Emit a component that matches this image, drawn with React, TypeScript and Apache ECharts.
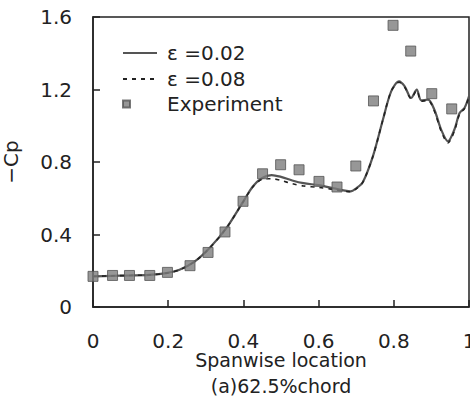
import React, { useEffect, useRef } from "react";
import * as echarts from "echarts";

const xTicks = [0, 0.2, 0.4, 0.6, 0.8, 1];
const yTicks = [0, 0.4, 0.8, 1.2, 1.6];

const eps002X = [0, 0.05, 0.1, 0.15, 0.195, 0.23, 0.27, 0.31, 0.355, 0.4, 0.425, 0.45, 0.475, 0.5, 0.53, 0.56, 0.6, 0.64, 0.67, 0.685, 0.7, 0.718, 0.745, 0.771, 0.793, 0.814, 0.829, 0.846, 0.861, 0.873, 0.891, 0.908, 0.926, 0.944, 0.961, 0.975, 0.988, 1.0];
const eps002Y = [0.169, 0.172, 0.174, 0.177, 0.187, 0.205, 0.25, 0.325, 0.436, 0.583, 0.665, 0.712, 0.728, 0.718, 0.698, 0.683, 0.672, 0.655, 0.642, 0.638, 0.655, 0.69, 0.835, 1.033, 1.19, 1.245, 1.217, 1.153, 1.199, 1.14, 1.144, 1.088, 0.978, 0.914, 0.978, 1.07, 1.098, 1.162];
const eps008Y = [0.169, 0.172, 0.174, 0.177, 0.187, 0.205, 0.25, 0.325, 0.436, 0.583, 0.662, 0.705, 0.708, 0.698, 0.68, 0.668, 0.66, 0.648, 0.638, 0.636, 0.652, 0.69, 0.835, 1.033, 1.19, 1.24, 1.212, 1.15, 1.195, 1.135, 1.14, 1.08, 0.97, 0.905, 0.97, 1.065, 1.095, 1.16];

const expX = [0, 0.052, 0.097, 0.151, 0.198, 0.258, 0.306, 0.351, 0.399, 0.451, 0.499, 0.548, 0.601, 0.649, 0.699, 0.746, 0.798, 0.845, 0.901, 0.954];
const expY = [0.169, 0.174, 0.174, 0.174, 0.191, 0.228, 0.301, 0.414, 0.583, 0.735, 0.785, 0.757, 0.693, 0.662, 0.778, 1.137, 1.554, 1.412, 1.177, 1.093];

const fmt = (v: number) => String(Math.round(v * 10) / 10);

export default function App() {
  const ref = useRef<HTMLDivElement>(null);
  useEffect(() => {
    if (!ref.current) return;
    const chart = echarts.init(ref.current, null, { renderer: "svg" });
    const font = "DejaVu Sans, Liberation Sans, sans-serif";
    chart.setOption({
      animation: false,
      backgroundColor: "#fff",
      textStyle: { fontFamily: font },
      grid: {
        left: 93,
        top: 17,
        right: 1,
        bottom: 92,
        show: true,
        borderColor: "#222",
        borderWidth: 1.5,
        outerBoundsMode: "none",
        containLabel: false,
      },
      xAxis: {
        type: "value",
        min: xTicks[0],
        max: xTicks[xTicks.length - 1],
        interval: 0.2,
        axisLine: { show: true, lineStyle: { color: "#222", width: 1.5 } },
        axisTick: { show: true, inside: true, length: 7, lineStyle: { color: "#222", width: 1.5 } },
        splitLine: { show: false },
        axisLabel: { formatter: (v: number) => fmt(v), color: "#222", fontSize: 20, margin: 24, fontFamily: font },
        name: "Spanwise location\n(a)62.5%chord",
        nameLocation: "middle",
        nameGap: 40,
        nameMoveOverlap: false,
        nameTextStyle: { color: "#222", fontSize: 19, lineHeight: 26, fontFamily: font, verticalAlign: "top" },
      },
      yAxis: {
        type: "value",
        min: yTicks[0],
        max: yTicks[yTicks.length - 1],
        interval: 0.4,
        axisLine: { show: true, lineStyle: { color: "#222", width: 1.5 } },
        axisTick: { show: true, inside: true, length: 7, lineStyle: { color: "#222", width: 1.5 } },
        splitLine: { show: false },
        axisLabel: { formatter: (v: number) => fmt(v), color: "#222", fontSize: 20, margin: 21, fontFamily: font },
        name: "\u2212Cp",
        nameLocation: "middle",
        nameGap: 72,
        nameMoveOverlap: false,
        nameTextStyle: { color: "#222", fontSize: 20, fontFamily: font },
      },
      legend: [
        {
          orient: "vertical",
          left: 117,
          top: 38,
          itemWidth: 34,
          itemHeight: 10,
          itemGap: 6,
          itemStyle: { opacity: 0 },
          data: ["\u03b5 =0.02", "\u03b5 =0.08"],
          textStyle: { color: "#222", fontSize: 20, lineHeight: 20, fontFamily: font, padding: [0, 0, 0, 5] },
        },
        {
          orient: "vertical",
          left: 117,
          top: 89,
          itemWidth: 7,
          itemHeight: 7,
          itemGap: 5,
          data: [{ name: "Experiment", icon: "rect" }],
          textStyle: { color: "#222", fontSize: 20, lineHeight: 20, fontFamily: font, padding: [0, 0, 0, 32] },
        },
      ],
      series: [
        {
          name: "\u03b5 =0.02",
          type: "line",
          data: eps002X.map((x, i) => [x, eps002Y[i]]),
          symbol: "none",
          smooth: 0.3,
          lineStyle: { color: "#555", width: 2.2 },
          itemStyle: { color: "#555" },
          z: 2,
        },
        {
          name: "\u03b5 =0.08",
          type: "line",
          data: eps002X.map((x, i) => [x, eps008Y[i]]),
          symbol: "none",
          smooth: 0.3,
          lineStyle: { color: "#222", width: 1.6, type: [4, 5] },
          itemStyle: { color: "#222" },
          z: 3,
        },
        {
          name: "Experiment",
          type: "scatter",
          data: expX.map((x, i) => [x, expY[i]]),
          symbol: "rect",
          symbolSize: 10,
          itemStyle: { color: "#7d7d7d", borderColor: "#555", borderWidth: 1 },
          z: 4,
        },
      ],
    });
    return () => chart.dispose();
  }, []);
  return <div ref={ref} style={{ position: "absolute", left: 0, top: 0, width: 470, height: 399 }} />;
}
